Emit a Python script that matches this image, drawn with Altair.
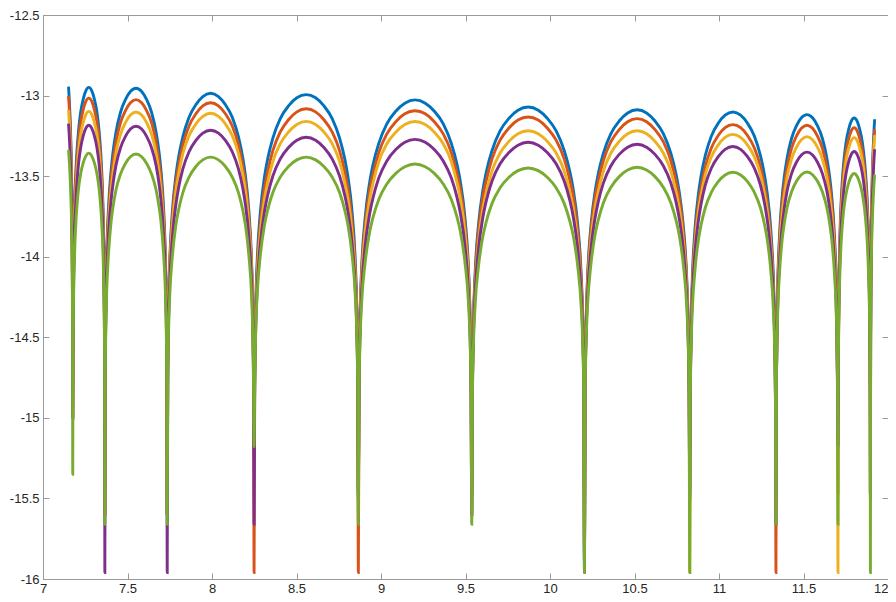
import altair as alt
import pandas as pd

# ---- data ----
series = ["s1", "s2", "s3", "s4", "s5"]
colors = ["#0072BD", "#D95319", "#EDB120", "#7E2F8E", "#77AC30"]

x_ticks = [7, 7.5, 8, 8.5, 9, 9.5, 10, 10.5, 11, 11.5, 12]
y_ticks = [-16, -15.5, -15, -14.5, -14, -13.5, -13, -12.5]

# x positions of the nulls (dips)
nulls_x = [7.176, 7.366, 7.735, 8.249, 8.866, 9.537, 10.204, 10.827, 11.337, 11.704, 11.896]
x_start = 7.151
x_end = 11.921

# peak value of each arch between consecutive nulls
peaks = {
    "s1": [-12.949, -12.955, -12.986, -12.994, -13.027, -13.071, -13.088, -13.102, -13.118, -13.139],
    "s2": [-13.016, -13.025, -13.045, -13.082, -13.094, -13.133, -13.143, -13.180, -13.184, -13.200],
    "s3": [-13.098, -13.102, -13.110, -13.160, -13.161, -13.218, -13.218, -13.241, -13.255, -13.261],
    "s4": [-13.184, -13.190, -13.215, -13.259, -13.272, -13.290, -13.302, -13.316, -13.351, -13.347],
    "s5": [-13.357, -13.363, -13.382, -13.382, -13.425, -13.449, -13.445, -13.476, -13.474, -13.484],
}
# values at the left and right ends of the curves
start_vals = {"s1": -12.945, "s2": -13.002, "s3": -13.088, "s4": -13.174, "s5": -13.337}
end_vals = {"s1": -13.147, "s2": -13.210, "s3": -13.245, "s4": -13.333, "s5": -13.490}

# depth reached at each null
depths = {
    "s1": [-15.00, -15.60, -15.60, -15.25, -15.50, -15.60, -15.90, -15.50, -15.50, -15.00, -15.50],
    "s2": [-15.00, -15.60, -15.60, -15.96, -15.96, -15.60, -15.90, -15.50, -15.96, -15.47, -15.50],
    "s3": [-15.00, -15.60, -15.60, -15.10, -15.50, -15.60, -15.90, -15.96, -15.60, -15.96, -15.50],
    "s4": [-15.00, -15.96, -15.96, -15.66, -15.48, -15.60, -15.96, -15.47, -15.66, -15.17, -15.50],
    "s5": [-15.35, -15.66, -15.66, -15.18, -15.66, -15.66, -15.96, -15.96, -15.66, -15.66, -15.96],
}

# arch profile: fraction of the arch width from a null, and drop below the peak
profile_t = [0.006, 0.015, 0.03, 0.06, 0.10, 0.13, 0.18, 0.25, 0.33, 0.41, 0.5]
drops = {
    "s1": [1.72, 1.33, 1.03, 0.73, 0.51, 0.40, 0.27, 0.150, 0.070, 0.020, 0.0],
    "s2": [1.67, 1.29, 1.00, 0.71, 0.49, 0.39, 0.26, 0.145, 0.068, 0.019, 0.0],
    "s3": [1.62, 1.25, 0.97, 0.69, 0.48, 0.38, 0.25, 0.140, 0.066, 0.019, 0.0],
    "s4": [1.55, 1.20, 0.93, 0.66, 0.46, 0.36, 0.24, 0.135, 0.063, 0.018, 0.0],
    "s5": [1.43, 1.10, 0.85, 0.61, 0.42, 0.33, 0.22, 0.125, 0.058, 0.017, 0.0],
}

# ---- assemble the table ----
rows = []
for s in series:
    D = drops[s]
    d13 = D[profile_t.index(0.13)]
    # left tail
    wt = (nulls_x[0] - x_start) / 0.13
    for t, d in zip(profile_t, D):
        if t <= 0.13:
            rows.append({"series": s, "x": nulls_x[0] - t * wt, "y": start_vals[s] + d13 - d})
    # nulls
    for xn, dep in zip(nulls_x, depths[s]):
        rows.append({"series": s, "x": xn, "y": dep})
    # arches
    for i in range(len(nulls_x) - 1):
        a, b = nulls_x[i], nulls_x[i + 1]
        w = b - a
        pk = peaks[s][i]
        for t, d in zip(profile_t, D):
            rows.append({"series": s, "x": a + t * w, "y": pk - d})
            if t < 0.5:
                rows.append({"series": s, "x": b - t * w, "y": pk - d})
    # right tail
    wt = (x_end - nulls_x[-1]) / 0.13
    for t, d in zip(profile_t, D):
        if t <= 0.13:
            rows.append({"series": s, "x": nulls_x[-1] + t * wt, "y": end_vals[s] + d13 - d})

df = pd.DataFrame(rows)

FONT = "Liberation Sans"
AX = "#9a9a9a"
common = dict(grid=False, title=None, domainColor=AX, tickColor=AX, domainWidth=1,
              tickWidth=1, tickSize=alt.ExprRef(expr="-6"), labelColor="#262626",
              labelFont=FONT, labelFontSize=13, labelFlush=False, labelOverlap=False,
              labelExpr="'' + datum.value")
no_label = {k: v for k, v in common.items() if not k.startswith("label")}

xs = alt.Scale(domain=[7, 12], nice=False, zero=False)
ys = alt.Scale(domain=[-16, -12.5], nice=False, zero=False)

layers = []
for i, (s, c) in enumerate(zip(series, colors)):
    if i == 0:
        xa = alt.Axis(orient="bottom", values=x_ticks, labelPadding=9,
                      labelAlign=alt.ExprRef(expr="datum.value == 12 ? 'right' : 'center'"),
                      **common)
        ya = alt.Axis(orient="left", values=y_ticks, labelPadding=10, **common)
    elif i == 1:
        xa = alt.Axis(orient="top", values=x_ticks, labels=False, **no_label)
        ya = alt.Axis(orient="right", values=y_ticks, labels=False, **no_label)
    else:
        xa = None
        ya = None
    ch = alt.Chart(df).transform_filter(alt.datum.series == s).mark_line(
        color=c, strokeWidth=2.9, interpolate="monotone", clip=True
    ).encode(
        x=alt.X("x:Q", scale=xs, axis=xa),
        y=alt.Y("y:Q", scale=ys, axis=ya),
    )
    layers.append(ch)

chart = alt.layer(*layers).resolve_axis(x="independent", y="independent").properties(
    width=845, height=564,
    autosize=alt.AutoSizeParams(type="none"),
    padding={"left": 35, "top": 7, "right": 0, "bottom": 15},
).configure_view(stroke=None).configure(background="white")

chart.save("out.html", embed_options={"renderer": "svg", "actions": False})
